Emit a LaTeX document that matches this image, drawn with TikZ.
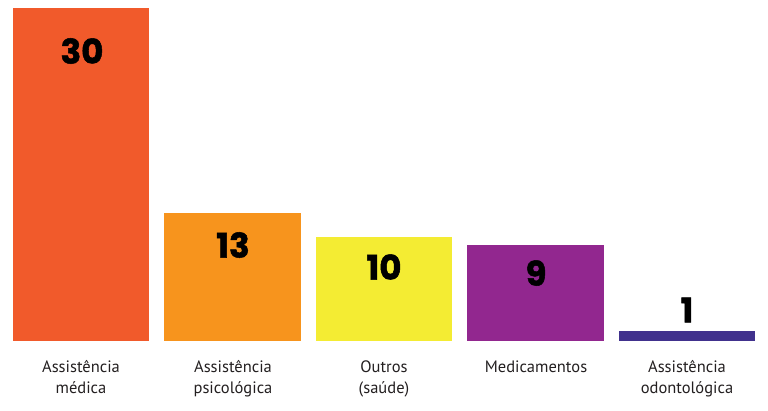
\documentclass[tikz,border=0pt]{standalone}
\usepackage{fontspec}
\setmainfont{PT Sans}
\newfontfamily\numfont{Poppins}[BoldFeatures={FakeBold=1.5}]

\definecolor{barA}{RGB}{241,90,43}
\definecolor{barB}{RGB}{247,148,29}
\definecolor{barC}{RGB}{244,236,51}
\definecolor{barD}{RGB}{146,39,143}
\definecolor{barE}{RGB}{65,49,141}
\definecolor{labtext}{RGB}{35,31,32}

\begin{document}
\begin{tikzpicture}[x=1pt,y=-1pt,
	num/.style={inner sep=0pt,font=\numfont\bfseries\fontsize{34}{34}\selectfont},
	lab/.style={inner sep=0pt,align=center,text=labtext,font=\fontsize{16.5}{21}\selectfont}]
			\useasboundingbox (0,0) rectangle (768,410);
			
			\foreach \l/\r/\t/\c in {13/149/8/barA,164/301/213/barB,316/452/237/barC,467/604/245/barD,619/755/331/barE}
			\fill[\c] (\l,\t) rectangle (\r,341);
			
			\node[num] (v30) at (82,51) {30};
			\node[num] (v13) at (233,245) {13};
			\node[num] (v10) at (384,267) {10};
			\node[num] (v9) at (536,273) {9};
			\node[num] (v1) at (687,310) {1};
			
			% two-line labels: base is the last line
			\node[lab,anchor=base] (medica) at (81,393) {Assistência\\médica};
			\node[lab,anchor=base] (psico) at (233,393) {Assistência\\psicológica};
			\node[lab,anchor=base] (outros) at (384,393) {Outros\\(saúde)};
			\node[lab,anchor=base] (medic) at (536,372) {Medicamentos};
			\node[lab,anchor=base] (odonto) at (687,393) {Assistência\\odontológica};
			\end{tikzpicture}
\end{document}
